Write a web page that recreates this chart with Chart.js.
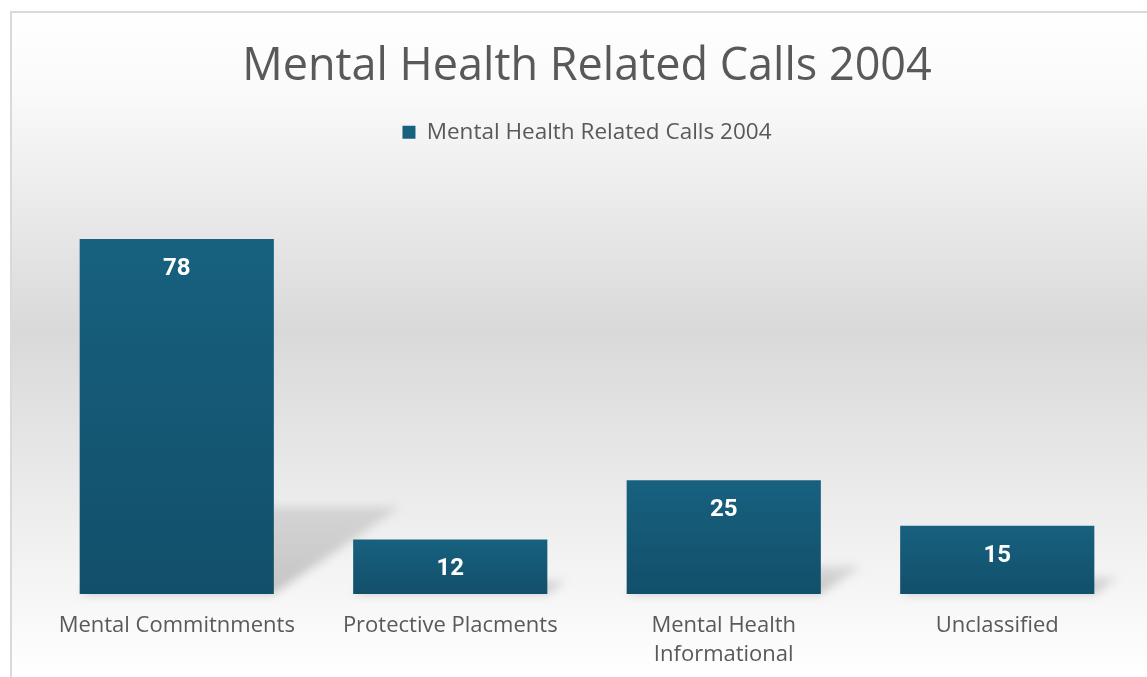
<!DOCTYPE html>
<html>
<head>
<meta charset="utf-8">
<title>Mental Health Related Calls 2004</title>
<script src="https://cdn.jsdelivr.net/npm/chart.js@4.4.1/dist/chart.umd.min.js"></script>
<style>
  html, body { margin: 0; padding: 0; background: #ffffff; }
  #wrap { position: relative; width: 1147px; height: 677px; }
</style>
</head>
<body>
<div id="wrap"><canvas id="myChart"></canvas></div>
<script>
const CATEGORIES = ['Mental Commitnments', 'Protective Placments', ['Mental Health', 'Informational'], 'Unclassified'];
const CALLS = [78, 12, 25, 15];
const SERIES_NAME = 'Mental Health Related Calls 2004';
const TEXT_GREY = '#595959';

// panel background: white top, grey middle, white bottom, with a thin frame
const panelBackground = {
    id: 'panelBackground',
    beforeDraw(chart)
    {
        const ctx = chart.ctx;
        const x0 = 11, y0 = 12, x1 = chart.width, y1 = chart.height;
        ctx.save();
        const g = ctx.createLinearGradient(0, y0, 0, y1);
        g.addColorStop(0, '#ffffff');
        g.addColorStop(0.12, '#fafafa');
        g.addColorStop(0.48, '#d9d9d9');
        g.addColorStop(0.82, '#f2f2f2');
        g.addColorStop(1, '#ffffff');
        ctx.fillStyle = g;
        ctx.fillRect(x0, y0, x1 - x0, y1 - y0);
        ctx.strokeStyle = '#d9d9d9';
        ctx.lineWidth = 2;
        ctx.beginPath();
        ctx.moveTo(x0, y1);
        ctx.lineTo(x0, y0);
        ctx.lineTo(x1, y0);
        ctx.stroke();
        ctx.restore();
    }
};

// extra room between the legend and the bars
const legendGap = {
    id: 'legendGap',
    beforeInit(chart)
    {
        const fit = chart.legend.fit;
        chart.legend.fit = function ()
        {
            fit.call(this);
            this.height += 31;
        };
    }
};

// perspective shadow cast back and to the right of each bar
const barShadows = {
    id: 'barShadows',
    beforeDatasetsDraw(chart)
    {
        const ctx = chart.ctx;
        const meta = chart.getDatasetMeta(0);
        ctx.save();
        ctx.filter = 'blur(5px)';
        meta.data.forEach(bar =>
        {
            const half = bar.width / 2;
            const h = bar.base - bar.y;
            const sh = h * 0.245;
            const dx = sh * 1.45;
            const g = ctx.createLinearGradient(0, bar.base, 0, bar.base - sh);
            g.addColorStop(0, 'rgba(0,0,0,0.2)');
            g.addColorStop(1, 'rgba(0,0,0,0.1)');
            ctx.fillStyle = g;
            ctx.beginPath();
            ctx.moveTo(bar.x - half, bar.base);
            ctx.lineTo(bar.x + half, bar.base);
            ctx.lineTo(bar.x + half + dx, bar.base - sh);
            ctx.lineTo(bar.x - half + dx, bar.base - sh);
            ctx.closePath();
            ctx.fill();
        });
        ctx.restore();
    }
};

// value labels inside the top of each bar
const barValues = {
    id: 'barValues',
    afterDatasetsDraw(chart)
    {
        const ctx = chart.ctx;
        const meta = chart.getDatasetMeta(0);
        const values = chart.data.datasets[0].data;
        ctx.save();
        ctx.fillStyle = '#ffffff';
        ctx.font = 'bold 24px Roboto';
        ctx.textAlign = 'center';
        ctx.textBaseline = 'middle';
        meta.data.forEach((bar, i) =>
        {
            ctx.fillText(String(values[i]), bar.x, bar.y + 30);
        });
        ctx.restore();
    }
};

// each bar gets its own light-to-dark vertical gradient
function barFill(context)
{
    const chart = context.chart;
    const y = chart.scales.y;
    if (!y || context.type !== 'data') return '#155a7a';
    const top = y.getPixelForValue(context.raw);
    const base = y.getPixelForValue(0);
    if (!isFinite(top) || !isFinite(base) || top === base) return '#155a7a';
    const g = chart.ctx.createLinearGradient(0, top, 0, base);
    g.addColorStop(0, '#17617f');
    g.addColorStop(1, '#124f6a');
    return g;
}

const CONTEXT = document.getElementById('myChart').getContext('2d');
new Chart(CONTEXT,
{
    type: 'bar',
    data:
    {
        labels: CATEGORIES,
        datasets:
        [{
            label: SERIES_NAME,
            data: CALLS,
            backgroundColor: barFill,
            borderWidth: 0,
            barPercentage: 0.71,
            categoryPercentage: 1
        }]
    },
    plugins: [panelBackground, legendGap, barShadows, barValues],
    options:
    {
        responsive: true,
        maintainAspectRatio: false,
        animation: false,
        layout: { padding: { left: 40, right: 13, top: 20, bottom: 0 } },
        plugins:
        {
            title:
            {
                display: true,
                text: SERIES_NAME,
                color: TEXT_GREY,
                font: { family: 'Open Sans', size: 45, weight: 'normal' },
                padding: { top: 20, bottom: 17 }
            },
            legend:
            {
                display: true,
                labels:
                {
                    color: TEXT_GREY,
                    font: { family: 'Open Sans', size: 22.5 },
                    boxWidth: 13,
                    boxHeight: 13,
                    padding: 10
                }
            },
            tooltip: { enabled: false }
        },
        scales:
        {
            x:
            {
                grid: { display: false },
                border: { display: false },
                afterFit(scale) { scale.height = 83; },
                ticks:
                {
                    color: TEXT_GREY,
                    font: { family: 'Open Sans', size: 22, lineHeight: 1.32 },
                    padding: 9,
                    maxRotation: 0,
                    autoSkip: false
                }
            },
            y:
            {
                display: false,
                min: 0,
                max: 90
            }
        }
    }
});
</script>
</body>
</html>
